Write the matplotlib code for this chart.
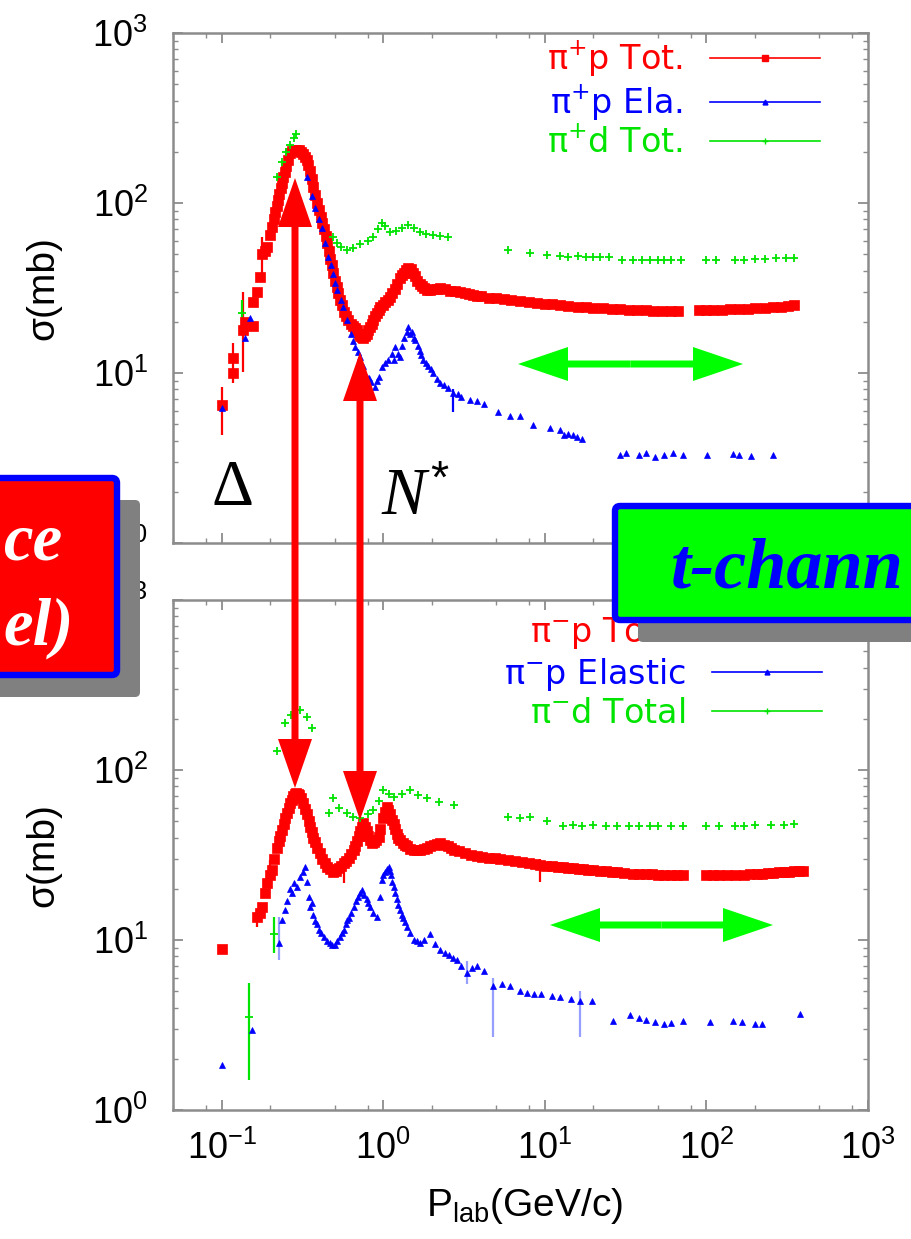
import numpy as np
import matplotlib
matplotlib.use('Agg')
import matplotlib.pyplot as plt
from matplotlib.ticker import LogLocator, NullFormatter
from matplotlib.patches import FancyBboxPatch, FancyArrowPatch
from matplotlib.lines import Line2D
from matplotlib.transforms import IdentityTransform

plt.rcParams['font.family'] = ['Liberation Sans', 'DejaVu Sans']
plt.rcParams['mathtext.fontset'] = 'custom'
plt.rcParams['mathtext.rm'] = 'Liberation Sans'
plt.rcParams['mathtext.it'] = 'Liberation Serif:italic'
plt.rcParams['mathtext.bf'] = 'Liberation Sans:bold'

# ---------------- data: top panel (pi+), (P_lab [GeV/c], sigma [mb]) ----------------
pip_tot = [(0.100, 6.5), (0.118, 12.3), (0.118, 10.0), (0.136, 17.9), (0.140, 20.0), (0.157, 19.0),
           (0.157, 26.0), (0.165, 30.0), (0.173, 36.6), (0.178, 50.0), (0.185, 52.0), (0.190, 55.0),
           (0.200, 65.0), (0.205, 72.0), (0.210, 80.0), (0.215, 88.0), (0.220, 96.0), (0.224, 104.0),
           (0.228, 113.0), (0.232, 122.0), (0.236, 132.0), (0.240, 142.0), (0.245, 153.0),
           (0.250, 165.0), (0.258, 180.0), (0.266, 196.0), (0.273, 202.0), (0.280, 205.0),
           (0.290, 206.0), (0.300, 204.0), (0.310, 200.0), (0.320, 195.0), (0.328, 187.0),
           (0.337, 179.0), (0.343, 168.0), (0.350, 155.0), (0.360, 139.0), (0.370, 124.0),
           (0.380, 111.0), (0.390, 100.0), (0.400, 91.0), (0.410, 83.0), (0.420, 76.0),
           (0.430, 70.0), (0.440, 64.0), (0.450, 58.0), (0.460, 52.0), (0.470, 47.0), (0.480, 43.0),
           (0.490, 39.0), (0.502, 35.0), (0.515, 32.0), (0.527, 29.5), (0.540, 27.0), (0.555, 25.0),
           (0.570, 23.0), (0.590, 21.5), (0.607, 20.5), (0.630, 19.5), (0.650, 19.0), (0.670, 18.5),
           (0.687, 17.9), (0.705, 17.0), (0.720, 16.5), (0.735, 16.2), (0.750, 16.0), (0.770, 16.4),
           (0.790, 17.0), (0.810, 17.8), (0.830, 18.7), (0.850, 19.5), (0.870, 20.5), (0.895, 21.5),
           (0.920, 22.5), (0.940, 23.5), (0.960, 24.5), (0.990, 25.2), (1.030, 26.0), (1.065, 27.0),
           (1.100, 28.0), (1.140, 29.5), (1.180, 31.0), (1.225, 33.5), (1.270, 36.0), (1.310, 37.5),
           (1.350, 39.0), (1.390, 40.5), (1.430, 41.7), (1.475, 41.0), (1.520, 39.0), (1.570, 37.0),
           (1.620, 35.0), (1.680, 33.5), (1.740, 32.5), (1.800, 31.5), (1.860, 30.8), (1.950, 30.8),
           (2.050, 31.0), (2.150, 31.4), (2.250, 31.7), (2.400, 31.2), (2.600, 30.5), (2.800, 30.2),
           (3.000, 30.0), (3.200, 29.7), (3.400, 29.0), (3.600, 28.8), (3.800, 28.5), (4.000, 28.2),
           (4.500, 27.8), (5.000, 27.5), (5.600, 27.2), (6.200, 26.9), (7.000, 26.6), (8.000, 26.2),
           (9.000, 25.8), (10.0, 25.5), (11.0, 25.3), (12.5, 25.0), (14.0, 24.8), (16.0, 24.5),
           (18.0, 24.3), (20.0, 24.2), (23.0, 24.0), (26.0, 23.9), (29.0, 23.8), (33.0, 23.6),
           (37.0, 23.5), (42.0, 23.4), (47.0, 23.3), (53.0, 23.3), (60.0, 23.3), (67.0, 23.3),
           (90.0, 23.4), (100.0, 23.5), (110.0, 23.5), (125.0, 23.6), (140.0, 23.7), (160.0, 23.8),
           (180.0, 23.9), (200.0, 24.0), (230.0, 24.2), (260.0, 24.4), (290.0, 24.6), (320.0, 24.8),
           (350.0, 25.0)]

pip_ela = [(0.100, 6.2), (0.140, 16.0), (0.150, 21.0), (0.337, 143.0), (0.360, 110.0), (0.380, 93.0),
           (0.400, 80.0), (0.417, 71.0), (0.437, 58.0), (0.457, 48.0), (0.475, 43.0), (0.490, 38.0),
           (0.505, 34.0), (0.520, 30.8), (0.545, 27.0), (0.565, 24.5), (0.596, 20.4), (0.630, 17.0),
           (0.650, 15.5), (0.670, 14.3), (0.695, 13.3), (0.720, 12.4), (0.750, 11.0), (0.790, 9.5),
           (0.815, 9.3), (0.840, 8.8), (0.890, 8.3), (0.915, 9.0), (0.940, 9.5), (0.980, 10.9),
           (1.030, 11.5), (1.075, 11.9), (1.130, 13.0), (1.160, 12.0), (1.190, 14.3), (1.230, 13.0),
           (1.270, 12.4), (1.310, 14.5), (1.350, 16.0), (1.400, 17.5), (1.430, 18.7), (1.470, 17.0),
           (1.500, 17.5), (1.540, 16.0), (1.580, 15.6), (1.630, 14.5), (1.680, 13.5), (1.720, 12.8),
           (1.770, 11.9), (1.830, 11.5), (1.900, 11.0), (1.970, 10.5), (2.040, 10.0), (2.150, 9.2),
           (2.250, 8.7), (2.380, 8.5), (2.500, 8.2), (2.710, 7.6), (2.900, 7.5), (3.050, 7.2),
           (3.450, 6.9), (3.800, 6.8), (4.200, 6.6), (5.100, 5.9), (6.100, 5.6), (7.000, 5.6),
           (8.400, 4.95), (10.8, 4.75), (12.5, 4.6), (13.2, 4.3), (14.0, 4.4), (15.0, 4.3),
           (15.8, 4.2), (17.0, 4.1), (29.0, 3.3), (32.0, 3.4), (38.0, 3.3), (42.0, 3.4), (48.0, 3.2),
           (55.0, 3.3), (62.0, 3.4), (72.0, 3.3), (101.0, 3.3), (146.0, 3.35), (160.0, 3.3),
           (190.0, 3.25), (260.0, 3.3)]

pid_tot = [(0.133, 22.5), (0.220, 142.0), (0.236, 175.0), (0.250, 200.0), (0.266, 219.0),
           (0.280, 240.0), (0.290, 256.0), (0.490, 63.0), (0.520, 58.0), (0.550, 55.0), (0.596, 52.7),
           (0.650, 54.0), (0.720, 57.6), (0.800, 60.0), (0.870, 63.0), (0.930, 70.0), (0.980, 76.0),
           (1.030, 73.0), (1.100, 67.5), (1.200, 68.0), (1.300, 71.0), (1.430, 74.0), (1.550, 71.0),
           (1.690, 67.5), (1.850, 66.0), (2.040, 65.0), (2.250, 64.0), (2.530, 63.0), (5.9, 52.7),
           (8.1, 50.6), (10.3, 49.4), (12.5, 48.5), (14.0, 48.2), (16.0, 48.5), (18.0, 48.0),
           (20.0, 48.2), (22.0, 48.0), (25.0, 48.2), (30.0, 46.5), (35.0, 46.3), (40.0, 46.5),
           (45.0, 46.2), (50.0, 46.3), (55.0, 46.0), (60.0, 46.3), (70.0, 46.0), (100.0, 46.3),
           (115.0, 46.2), (150.0, 46.5), (170.0, 46.3), (200.0, 46.7), (230.0, 47.0), (270.0, 47.2),
           (310.0, 47.3), (350.0, 47.5)]

# error bars (top): (P_lab, low, high)
pip_tot_err = [(0.100, 4.3, 8.3), (0.118, 8.7, 15.0), (0.136, 10.1, 30.0), (0.178, 39.0, 63.0)]
pip_ela_err = [(2.71, 5.9, 8.0)]
pid_tot_err = [(0.133, 17.0, 27.0)]

# ---------------- data: bottom panel (pi-) ----------------
pim_tot = [(0.100, 8.9), (0.166, 13.7), (0.172, 14.5), (0.178, 15.7), (0.185, 19.0), (0.190, 21.6),
           (0.198, 24.0), (0.205, 25.8), (0.212, 30.0), (0.220, 35.0), (0.225, 38.0), (0.230, 41.0),
           (0.236, 44.5), (0.242, 48.0), (0.248, 52.0), (0.254, 56.0), (0.260, 60.0), (0.266, 64.0),
           (0.272, 67.0), (0.278, 70.0), (0.284, 72.0), (0.290, 73.0), (0.295, 72.5), (0.300, 71.0),
           (0.310, 68.0), (0.320, 64.0), (0.328, 59.0), (0.337, 55.0), (0.345, 50.0), (0.354, 46.4),
           (0.362, 43.0), (0.370, 40.0), (0.380, 37.5), (0.390, 35.0), (0.405, 32.5), (0.420, 30.0),
           (0.435, 28.5), (0.450, 27.0), (0.470, 26.0), (0.490, 25.2), (0.510, 25.6), (0.530, 26.5),
           (0.550, 27.3), (0.570, 28.2), (0.590, 29.3), (0.610, 30.5), (0.630, 32.0), (0.655, 33.8),
           (0.672, 35.5), (0.690, 38.0), (0.705, 41.0), (0.720, 44.0), (0.735, 46.5), (0.750, 48.6),
           (0.770, 46.5), (0.790, 44.0), (0.810, 41.0), (0.830, 38.5), (0.850, 37.0), (0.875, 37.5),
           (0.900, 38.5), (0.935, 40.5), (0.960, 45.0), (0.990, 52.0), (1.020, 57.0), (1.050, 60.6),
           (1.075, 58.0), (1.100, 55.0), (1.130, 51.0), (1.160, 48.0), (1.185, 45.0), (1.210, 42.0),
           (1.240, 40.0), (1.270, 38.8), (1.320, 37.0), (1.360, 36.0), (1.400, 35.5), (1.470, 34.5),
           (1.540, 33.8), (1.620, 33.8), (1.700, 34.0), (1.780, 34.5), (1.860, 35.0), (1.950, 35.5),
           (2.050, 36.0), (2.150, 36.5), (2.250, 37.0), (2.370, 36.3), (2.500, 35.5), (2.610, 34.6),
           (2.730, 33.8), (2.950, 33.2), (3.200, 32.5), (3.500, 31.7), (3.800, 31.0), (4.100, 30.7),
           (4.500, 30.5), (4.900, 30.2), (5.300, 30.0), (5.900, 29.5), (6.500, 29.0), (7.200, 28.6),
           (8.000, 28.2), (8.700, 27.9), (9.400, 27.6), (10.2, 27.4), (11.0, 27.3), (12.0, 27.0),
           (13.0, 26.8), (14.0, 26.6), (15.0, 26.4), (16.2, 26.2), (17.3, 26.0), (18.6, 25.8),
           (20.0, 25.7), (22.0, 25.5), (24.0, 25.4), (26.0, 25.2), (28.0, 25.0), (31.0, 24.8),
           (35.0, 24.6), (38.0, 24.5), (42.0, 24.4), (46.0, 24.3), (50.0, 24.2), (55.0, 24.1),
           (60.0, 24.1), (66.0, 24.1), (72.0, 24.1), (100.0, 24.1), (110.0, 24.0), (120.0, 24.0),
           (135.0, 24.0), (150.0, 24.1), (170.0, 24.2), (187.0, 24.3), (205.0, 24.4), (220.0, 24.6),
           (240.0, 24.7), (260.0, 24.9), (280.0, 25.0), (300.0, 25.1), (325.0, 25.2), (350.0, 25.3),
           (375.0, 25.4), (396.0, 25.5)]

pim_ela = [(0.100, 1.84), (0.154, 2.96), (0.225, 9.6), (0.236, 13.1), (0.245, 15.0), (0.253, 17.0),
           (0.265, 20.0), (0.272, 19.0), (0.280, 21.6), (0.293, 20.5), (0.306, 23.6), (0.320, 25.0),
           (0.330, 27.0), (0.337, 22.0), (0.345, 18.0), (0.354, 15.7), (0.362, 16.5), (0.370, 14.0),
           (0.380, 13.0), (0.390, 12.5), (0.400, 11.5), (0.410, 11.0), (0.430, 10.4), (0.450, 9.8),
           (0.470, 9.6), (0.485, 9.3), (0.500, 9.4), (0.520, 9.8), (0.540, 10.4), (0.555, 11.0),
           (0.570, 11.5), (0.585, 12.5), (0.596, 13.1), (0.610, 13.5), (0.630, 14.5), (0.655, 15.7),
           (0.680, 17.0), (0.700, 18.0), (0.720, 19.0), (0.740, 19.7), (0.765, 18.5), (0.790, 17.5),
           (0.810, 16.5), (0.830, 15.7), (0.870, 14.5), (0.910, 13.7), (0.950, 18.0), (0.980, 22.5),
           (1.000, 24.0), (1.030, 25.0), (1.055, 26.0), (1.080, 27.0), (1.100, 25.5), (1.120, 24.0),
           (1.140, 22.0), (1.160, 20.6), (1.185, 19.0), (1.210, 17.5), (1.240, 16.0), (1.270, 15.0),
           (1.300, 14.0), (1.330, 13.5), (1.360, 12.7), (1.400, 12.0), (1.470, 11.0), (1.540, 10.0),
           (1.620, 9.8), (1.690, 9.6), (1.800, 10.0), (1.950, 10.9), (2.100, 9.5), (2.250, 8.7),
           (2.400, 8.4), (2.550, 8.2), (2.700, 7.8), (2.860, 7.6), (3.050, 7.0), (3.300, 6.4),
           (3.550, 6.8), (3.800, 7.0), (4.200, 6.6), (4.800, 5.35), (5.400, 5.5), (6.100, 5.35),
           (7.000, 5.0), (7.800, 4.9), (8.600, 4.8), (9.500, 4.8), (11.0, 4.7), (12.5, 4.6),
           (14.5, 4.5), (16.5, 4.4), (19.7, 4.4), (26.5, 3.35), (33.7, 3.6), (38.0, 3.5), (42.0, 3.4),
           (48.0, 3.3), (55.0, 3.2), (60.0, 3.25), (72.0, 3.35), (105.0, 3.3), (146.0, 3.35),
           (165.0, 3.3), (200.0, 3.2), (220.0, 3.2), (380.0, 3.67)]

pimd_tot = [(0.147, 3.54), (0.210, 10.9), (0.220, 130.0), (0.248, 188.0), (0.270, 210.0),
            (0.306, 226.0), (0.337, 206.0), (0.360, 176.0), (0.460, 55.5), (0.490, 68.0),
            (0.530, 60.0), (0.596, 55.5), (0.650, 53.0), (0.720, 52.0), (0.800, 55.0), (0.870, 58.0),
            (0.940, 66.0), (1.000, 76.0), (1.080, 72.0), (1.160, 69.0), (1.300, 72.0), (1.470, 76.0),
            (1.650, 71.0), (1.860, 68.0), (2.200, 65.0), (2.730, 62.0), (5.9, 52.6), (7.0, 52.0),
            (8.1, 52.6), (10.3, 50.0), (13.0, 47.0), (15.0, 47.5), (17.0, 47.0), (20.0, 47.2),
            (24.0, 47.0), (28.0, 47.0), (33.0, 46.8), (38.0, 47.0), (45.0, 46.8), (50.0, 47.0),
            (60.0, 46.8), (72.0, 46.8), (100.0, 47.0), (120.0, 46.8), (150.0, 47.0), (170.0, 47.0),
            (200.0, 47.2), (250.0, 47.5), (300.0, 47.7), (350.0, 48.0)]

# error bars (bottom): (P_lab, low, high)
pim_tot_err = [(0.166, 12.0, 15.0), (0.200, 24.0, 29.5), (0.570, 21.6, 30.8), (9.4, 22.0, 30.0)]
pim_ela_err = [(0.225, 7.6, 13.6), (3.3, 5.5, 7.5), (4.8, 2.7, 6.0), (16.5, 2.7, 5.0)]
pimd_tot_err = [(0.147, 1.5, 5.6), (0.210, 8.4, 13.6)]

top_labels = [r'$\mathregular{\pi^{+}p\ Tot.}$', r'$\mathregular{\pi^{+}p\ Ela.}$',
              r'$\mathregular{\pi^{+}d\ Tot.}$']
bot_labels = [r'$\mathregular{\pi^{-}p\ Total}$', r'$\mathregular{\pi^{-}p\ Elastic}$',
              r'$\mathregular{\pi^{-}d\ Total}$']

RED, BLUE, GREEN = '#ff0000', '#0000ff', '#00e400'
SPINE = '#8c8c8c'

W, H = 911, 1239
fig = plt.figure(figsize=(W / 100, H / 100), dpi=100)
PIX = IdentityTransform()


def P(x, y):
    return (x, H - y)


ax_top = fig.add_axes([173 / W, 1 - 543 / H, (868 - 173) / W, 510 / H])
ax_bot = fig.add_axes([173 / W, 1 - 1110 / H, (868 - 173) / W, 510 / H])


def draw_panel(ax, series, errs, labels, legend_anchor, show_xlabels):
    ax.set_xscale('log')
    ax.set_yscale('log')
    for (pts, c, m, ms, mew) in series:
        x, y = zip(*pts)
        ax.plot(x, y, ls='none', marker=m, ms=ms, color=c, mew=mew, zorder=3)
    for (pts, c, a) in errs:
        ex, lo, hi = zip(*pts)
        ax.vlines(ex, lo, hi, color=c, lw=1.6, alpha=a, zorder=2)
    ax.set_xlim(0.05, 1000)
    ax.set_ylim(1, 1000)
    for s in ax.spines.values():
        s.set_color(SPINE)
        s.set_linewidth(1.8)
    ax.xaxis.set_major_locator(LogLocator(base=10, numticks=10))
    ax.xaxis.set_minor_locator(LogLocator(base=10, subs=(2.0, 5.0, 8.0), numticks=10))
    ax.yaxis.set_major_locator(LogLocator(base=10, numticks=10))
    ax.yaxis.set_minor_locator(LogLocator(base=10, subs=np.arange(2, 10), numticks=10))
    ax.xaxis.set_minor_formatter(NullFormatter())
    ax.yaxis.set_minor_formatter(NullFormatter())
    ax.tick_params(which='both', direction='in', top=True, right=True, color=SPINE)
    ax.tick_params(which='major', length=7, width=1.3, labelsize=26)
    ax.tick_params(which='minor', length=3.5, width=1.0)
    ax.tick_params(axis='y', which='major', pad=18)
    ax.tick_params(axis='x', which='major', pad=15)
    if not show_xlabels:
        ax.tick_params(axis='x', labelbottom=False)
    ax.set_ylabel('σ(mb)', fontsize=28)
    ax.yaxis.set_label_coords(-0.16, 0.5)
    handles = [Line2D([0], [0], color=RED, lw=1.2, marker='s', ms=4.5),
               Line2D([0], [0], color=BLUE, lw=1.2, marker='^', ms=3.5),
               Line2D([0], [0], color=GREEN, lw=1.2, marker='+', ms=4, mew=1)]
    leg = ax.legend(handles, labels, loc='upper right', bbox_to_anchor=legend_anchor,
                    frameon=False, markerfirst=False, handlelength=3.3, handletextpad=0.8,
                    labelspacing=0.13, borderpad=0, borderaxespad=0,
                    prop={'family': 'DejaVu Sans', 'size': 24})
    for t, c in zip(leg.get_texts(), [RED, BLUE, GREEN]):
        t.set_color(c)
        t.set_math_fontfamily('dejavusans')


draw_panel(ax_top,
           [(pip_tot, RED, 's', 7, 0.5),
            (pip_ela, BLUE, '^', 5, 0.5),
            (pid_tot, GREEN, '+', 6, 1.3)],
           [(pip_tot_err, RED, 1.0),
            (pip_ela_err, BLUE, 1.0),
            (pid_tot_err, GREEN, 1.0)],
           top_labels, (0.931, 0.988), False)

draw_panel(ax_bot,
           [(pim_tot, RED, 's', 7, 0.5),
            (pim_ela, BLUE, '^', 5, 0.5),
            (pimd_tot, GREEN, '+', 6, 1.3)],
           [(pim_tot_err, RED, 1.0),
            (pim_ela_err, '#5060ff', 0.6),
            (pimd_tot_err, GREEN, 1.0)],
           bot_labels, (0.934, 0.972), True)

ax_bot.set_xlabel(r'$\mathregular{P_{lab}(GeV/c)}$', fontsize=28)
ax_bot.xaxis.set_label_coords(0.506, -0.150)

# ---------------- annotations (pixel coordinates) ----------------
MS = 72.0 / fig.dpi  # so that arrow-style sizes are in pixels


def double_arrow(p1, p2, color, hl, hw, tw):
    mid = ((p1[0] + p2[0]) / 2, (p1[1] + p2[1]) / 2)
    for tip in (p1, p2):
        a = FancyArrowPatch(P(*mid), P(*tip), transform=PIX,
                            arrowstyle=f'simple,head_length={hl},head_width={hw},tail_width={tw}',
                            mutation_scale=MS, shrinkA=0, shrinkB=0,
                            facecolor=color, edgecolor='none', lw=0, zorder=5)
        fig.add_artist(a)


double_arrow((295, 178), (295, 788), RED, 49, 34, 7)
double_arrow((360, 352), (360, 820), RED, 49, 34, 7)
double_arrow((518, 364), (743, 364), '#00ff00', 50, 34, 7)
double_arrow((550, 925), (773, 925), '#00ff00', 50, 34, 7)

fig.text(*P(212, 505), 'Δ', transform=PIX, family='Liberation Serif', fontsize=47,
         ha='left', va='baseline', color='black', zorder=6)
fig.text(*P(381, 515), r'$N^{*}$', transform=PIX, fontsize=48,
         ha='left', va='baseline', color='black', zorder=6)


def label_box(x0, y0, x1, y1, face, dx=23, dy=22):
    sh = FancyBboxPatch(P(x0 + dx, y1 + dy), x1 - x0, y1 - y0, transform=PIX,
                        boxstyle='round,pad=0,rounding_size=5', facecolor='#808080',
                        edgecolor='none', zorder=6)
    fig.add_artist(sh)
    bx = FancyBboxPatch(P(x0, y1), x1 - x0, y1 - y0, transform=PIX,
                        boxstyle='round,pad=0,rounding_size=5', facecolor=face,
                        edgecolor='#0000ff', lw=4.6, zorder=7)
    fig.add_artist(bx)


label_box(-40, 478, 117, 675, '#ff0000')
label_box(615, 506, 960, 620, '#00ff00')

box_font = dict(family='Liberation Serif', weight='bold', style='italic', transform=PIX,
                va='baseline', zorder=8)
fig.text(*P(3, 560), 'ce', color='white', fontsize=48, ha='left', **box_font)
fig.text(*P(3, 645), 'el)', color='white', fontsize=48, ha='left', **box_font)
fig.text(*P(671, 588), 't-chann', color='#0000ff', fontsize=52, ha='left', **box_font)

fig.savefig('out.png', dpi=100)
